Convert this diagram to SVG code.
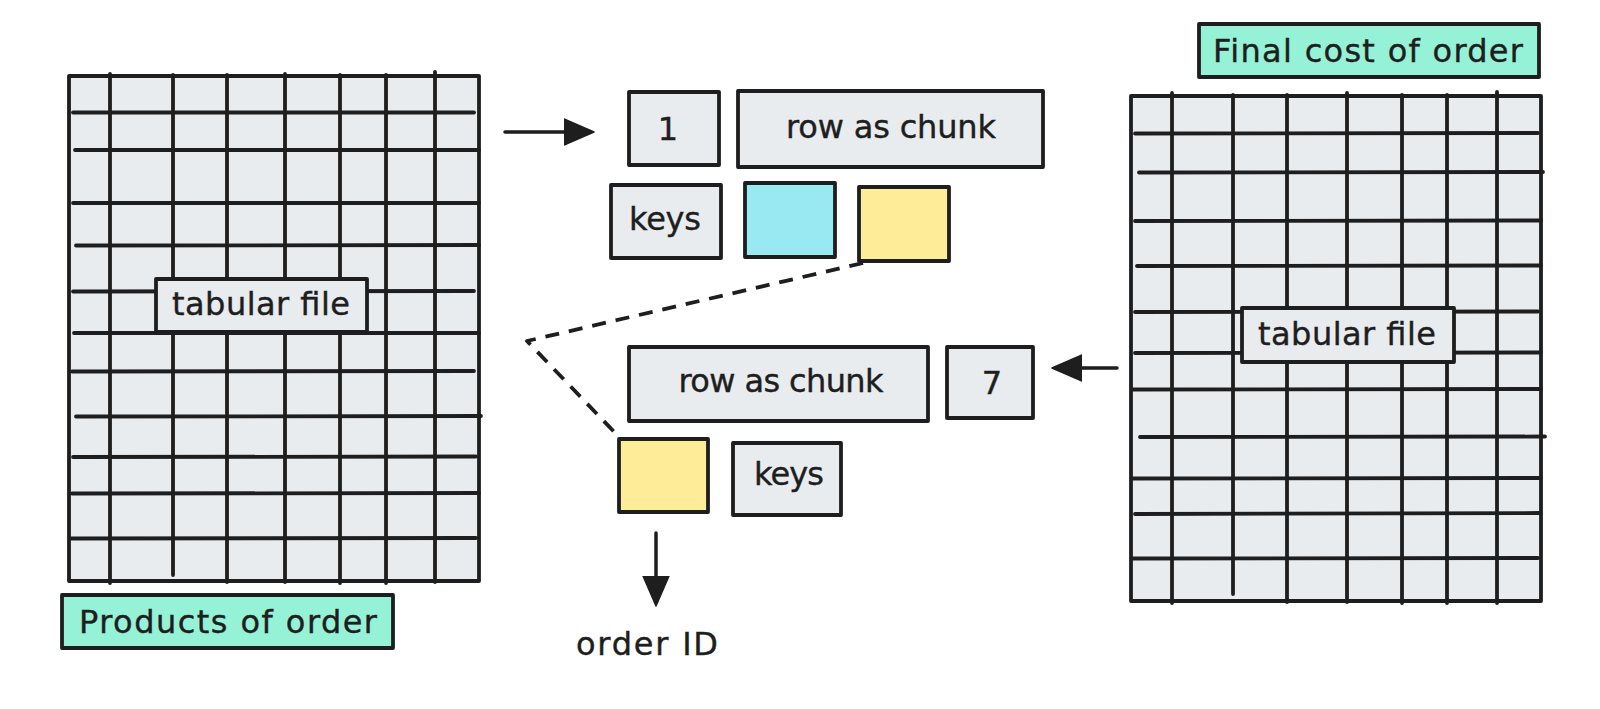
<svg xmlns="http://www.w3.org/2000/svg" width="1600" height="709" viewBox="0 0 1600 709">
<style>
  .bg { fill: #ffffff; }
  .box { fill: #e9ecef; stroke: #1e1e1e; stroke-width: 3.8; stroke-linejoin: round; }
  .teal { fill: #96f2d7; stroke: #1e1e1e; stroke-width: 3.8; stroke-linejoin: round; }
  .cyan { fill: #99e9f2; stroke: #1e1e1e; stroke-width: 3.8; stroke-linejoin: round; }
  .yellow { fill: #ffec99; stroke: #1e1e1e; stroke-width: 3.8; stroke-linejoin: round; }
  .grid { stroke: #1e1e1e; stroke-width: 3.8; stroke-linecap: round; fill: none; }
  .lbl { font-family: "DejaVu Sans", "Liberation Sans", sans-serif; font-size: 32px; fill: #1e1e1e; text-anchor: middle; stroke: #1e1e1e; stroke-width: 0.4; }
  .conn { stroke: #1e1e1e; stroke-width: 3.5; fill: none; stroke-linecap: round; }
  .dash { stroke: #1e1e1e; stroke-width: 3.8; fill: none; stroke-dasharray: 14 10; stroke-linejoin: round; }
</style>
<defs>
  <marker id="head" markerUnits="userSpaceOnUse" markerWidth="32" markerHeight="28" refX="26" refY="14" orient="auto">
    <path d="M0,1 L30,14 L0,27 Z" fill="#1e1e1e" stroke="#1e1e1e" stroke-width="1.5" stroke-linejoin="round"/>
  </marker>
</defs>
<rect class="bg" x="0" y="0" width="1600" height="709"/>

<g id="left-table">
  <rect class="box" x="69" y="76" width="410" height="505"/>
  <g class="grid">
    <line x1="110" y1="74" x2="110" y2="583"/>
    <line x1="173" y1="75" x2="173" y2="575"/>
    <line x1="227" y1="75" x2="227" y2="582"/>
    <line x1="285" y1="74" x2="285" y2="582"/>
    <line x1="340" y1="75" x2="340" y2="583"/>
    <line x1="386" y1="75" x2="386" y2="583"/>
    <line x1="435" y1="72" x2="435" y2="582"/>
    <line x1="73" y1="112.5" x2="474" y2="112.5"/>
    <line x1="75" y1="150" x2="479" y2="150"/>
    <line x1="73" y1="203" x2="479" y2="203"/>
    <line x1="76" y1="245.5" x2="479" y2="245"/>
    <line x1="73" y1="291.5" x2="474" y2="291"/>
    <line x1="74" y1="333" x2="479" y2="333"/>
    <line x1="72" y1="371.5" x2="474" y2="371"/>
    <line x1="76" y1="416.5" x2="481" y2="416"/>
    <line x1="73" y1="457" x2="476" y2="456.5"/>
    <line x1="72" y1="493.5" x2="479" y2="493"/>
    <line x1="71" y1="538.5" x2="476" y2="538"/>
  </g>
</g>
<g id="left-table-label">
  <rect class="box" x="156" y="279" width="211" height="53"/>
  <text class="lbl" x="261" y="315" textLength="178">tabular file</text>
</g>
<g id="products-label">
  <rect class="teal" x="62" y="595" width="331" height="53"/>
  <text class="lbl" x="228" y="633" font-size="33" textLength="298">Products of order</text>
</g>

<g id="box-1">
  <rect class="box" x="629" y="92" width="90" height="73"/>
  <text class="lbl" x="668" y="140">1</text>
</g>
<g id="row-chunk-1">
  <rect class="box" x="738" y="91" width="305" height="76"/>
  <text class="lbl" x="891" y="138" textLength="210">row as chunk</text>
</g>
<g id="keys-1">
  <rect class="box" x="611" y="185" width="110" height="73"/>
  <text class="lbl" x="665" y="230" textLength="72">keys</text>
</g>
<g id="cyan-1">
  <rect class="cyan" x="745" y="183" width="90" height="74"/>
</g>
<g id="yellow-1">
  <rect class="yellow" x="859" y="187" width="90" height="74"/>
</g>

<g id="row-chunk-2">
  <rect class="box" x="629" y="347" width="299" height="74"/>
  <text class="lbl" x="781" y="392" textLength="205">row as chunk</text>
</g>
<g id="box-7">
  <rect class="box" x="947" y="347" width="86" height="71"/>
  <text class="lbl" x="992" y="394">7</text>
</g>
<g id="yellow-2">
  <rect class="yellow" x="619" y="439" width="89" height="73"/>
</g>
<g id="keys-2">
  <rect class="box" x="733" y="443" width="108" height="72"/>
  <text class="lbl" x="789" y="485" textLength="70">keys</text>
</g>
<g id="order-id">
  <text class="lbl" x="647" y="655" textLength="142">order ID</text>
</g>

<g id="final-cost-label">
  <rect class="teal" x="1199" y="24" width="340" height="53"/>
  <text class="lbl" x="1368" y="62" font-size="34" textLength="310">Final cost of order</text>
</g>
<g id="right-table">
  <rect class="box" x="1131" y="96" width="410" height="505"/>
  <g class="grid">
    <line x1="1172" y1="93" x2="1172" y2="603"/>
    <line x1="1233" y1="95" x2="1233" y2="594"/>
    <line x1="1287" y1="95" x2="1287" y2="602"/>
    <line x1="1347" y1="93" x2="1347" y2="602"/>
    <line x1="1402" y1="95" x2="1402" y2="603"/>
    <line x1="1447" y1="95" x2="1447" y2="603"/>
    <line x1="1497" y1="92" x2="1497" y2="603"/>
    <line x1="1135" y1="133.5" x2="1538" y2="133"/>
    <line x1="1139" y1="172.5" x2="1543" y2="172"/>
    <line x1="1135" y1="221" x2="1541" y2="220.5"/>
    <line x1="1137" y1="266" x2="1541" y2="265.5"/>
    <line x1="1135" y1="312" x2="1538" y2="311.5"/>
    <line x1="1135" y1="353" x2="1541" y2="352.5"/>
    <line x1="1133" y1="389.5" x2="1541" y2="389"/>
    <line x1="1140" y1="437" x2="1545" y2="436.5"/>
    <line x1="1133" y1="478.5" x2="1541" y2="478"/>
    <line x1="1135" y1="514" x2="1541" y2="513"/>
    <line x1="1133" y1="558.5" x2="1538" y2="558"/>
  </g>
</g>
<g id="right-table-label">
  <rect class="box" x="1242" y="308" width="212" height="54"/>
  <text class="lbl" x="1347" y="345" textLength="178">tabular file</text>
</g>

<g id="connectors">
  <path class="conn" d="M505,132 L590,132" marker-end="url(#head)"/>
  <path class="conn" d="M1117,368 L1056,368" marker-end="url(#head)"/>
  <path class="conn" d="M656,533 L656,602" marker-end="url(#head)"/>
  <path class="dash" d="M863,263 L527,341 L620,438"/>
</g>
</svg>
